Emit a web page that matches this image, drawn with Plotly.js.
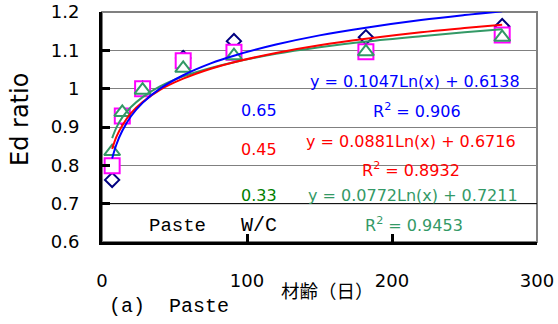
<!DOCTYPE html>
<html>
<head>
<meta charset="utf-8">
<script src="https://cdn.plot.ly/plotly-3.0.1.min.js"></script>
<style>html,body{margin:0;padding:0;background:#fff;}#chart{width:558px;height:324px;}</style>
</head>
<body>
<div id="chart"></div>
<script>
// Measured ages (days)
const days = [7, 14, 28, 56, 91, 182, 276];
// Ed ratio per W/C
const wc065 = [0.762, 0.925, 1.0, 1.08, 1.124, 1.134, 1.163];
const wc045 = [0.799, 0.929, 1.0, 1.073, 1.095, 1.096, 1.14];
const wc033 = [0.836, 0.938, 0.996, 1.053, 1.086, 1.096, 1.134];

// Trendline curves
const trendDays = [7, 10, 14, 20, 28, 40, 56, 75, 91, 120, 150, 182, 220, 250, 276];
const trend065 = [0.818, 0.855, 0.890, 0.928, 0.963, 1.000, 1.035, 1.066, 1.086, 1.115, 1.139, 1.159, 1.179, 1.192, 1.202];
const trend045 = [0.843, 0.875, 0.904, 0.936, 0.965, 0.997, 1.026, 1.052, 1.069, 1.093, 1.113, 1.130, 1.147, 1.158, 1.167];
const trend033 = [0.871, 0.899, 0.925, 0.952, 0.978, 1.006, 1.032, 1.054, 1.069, 1.091, 1.108, 1.123, 1.137, 1.147, 1.155];

const xTicks = [0, 100, 200, 300];
const yTicks = [0.6, 0.7, 0.8, 0.9, 1.0, 1.1, 1.2];
const yTickText = ['0.6', '0.7', '0.8', '0.9', '1', '1.1', '1.2'];

const F = 'DejaVu Sans, sans-serif';
const MONO = 'Liberation Mono, DejaVu Sans Mono, monospace';
const CJK = 'Noto Sans CJK JP, sans-serif';

const traces = [
  {x: days, y: wc065, mode: 'markers', type: 'scatter',
   marker: {symbol: 'diamond', size: 11, color: '#FFFFFF', line: {width: 2, color: '#000080'}}},
  {x: days, y: wc045, mode: 'markers', type: 'scatter',
   marker: {symbol: 'square', size: 15, color: '#FFFFFF', line: {width: 2, color: '#FF00FF'}}},
  {x: days, y: wc033, mode: 'markers', type: 'scatter',
   marker: {symbol: 'triangle-up', size: 14, color: '#FFFFFF', line: {width: 2, color: '#339966'}}},
  {x: trendDays, y: trend033, mode: 'lines', type: 'scatter', line: {color: '#339966', width: 2, shape: 'spline'}},
  {x: trendDays, y: trend045, mode: 'lines', type: 'scatter', line: {color: '#FF0000', width: 2, shape: 'spline'}},
  {x: trendDays, y: trend065, mode: 'lines', type: 'scatter', line: {color: '#0000FF', width: 2, shape: 'spline'}}
];

function ann(text, x, y, color, size, family) {
  return {text: text, x: x, y: y, xref: 'x', yref: 'y', showarrow: false,
          xanchor: 'center', yanchor: 'middle',
          font: {family: family || F, size: size || 16, color: color}};
}

const annotations = [
  ann('y = 0.1047Ln(x) + 0.6138', 216, 1.019, '#0000FF'),
  ann('R<sup>2</sup> = 0.906', 217, 0.944, '#0000FF'),
  ann('0.65', 108.6, 0.944, '#0000FF'),
  ann('y = 0.0881Ln(x) + 0.6716', 213, 0.862, '#FF0000'),
  ann('0.45', 108.6, 0.841, '#FF0000'),
  ann('R<sup>2</sup> = 0.8932', 213.3, 0.789, '#FF0000'),
  ann('0.33', 108.6, 0.722, '#008000'),
  ann('y = 0.0772Ln(x) + 0.7211', 214.7, 0.722, '#339966'),
  ann('R<sup>2</sup> = 0.9453', 215.4, 0.646, '#339966'),
  ann('Paste', 52, 0.643, '#000000', 19, MONO),
  ann('W/C', 108.6, 0.643, '#000000', 20, MONO),
  {text: 'Ed ratio', xref: 'paper', yref: 'paper', x: (20 - 102) / 435, y: (242 - 120) / 230,
   textangle: -90, showarrow: false, xanchor: 'center', yanchor: 'middle',
   font: {family: F, size: 24, color: '#000'}},
  {text: '材齢（日）', xref: 'paper', yref: 'paper', x: (327 - 102) / 435, y: (242 - 290) / 230,
   showarrow: false, xanchor: 'center', yanchor: 'middle',
   font: {family: CJK, size: 18.5, color: '#000'}},
  {text: '(a)\u00a0\u00a0Paste', xref: 'paper', yref: 'paper', x: (107 - 102) / 435, y: (242 - 306) / 230,
   showarrow: false, xanchor: 'left', yanchor: 'middle',
   font: {family: MONO, size: 20, color: '#000'}}
];

const layout = {
  width: 558, height: 324,
  margin: {l: 102, r: 21, t: 12, b: 82, pad: 0},
  paper_bgcolor: '#fff', plot_bgcolor: '#fff',
  showlegend: false,
  xaxis: {range: [0, 300], tickvals: xTicks, ticktext: xTicks.map(String),
          showgrid: false, zeroline: false,
          showline: true, linecolor: '#000', linewidth: 3,
          ticks: 'inside', ticklen: 8, tickwidth: 3, tickcolor: '#000',
          ticklabelstandoff: 20,
          tickfont: {family: F, size: 18, color: '#000'}},
  yaxis: {range: [0.6, 1.2], tickvals: yTicks, ticktext: yTickText,
          showgrid: true, gridcolor: '#808080', gridwidth: 1, zeroline: false,
          showline: true, linecolor: '#000', linewidth: 3,
          ticks: 'inside', ticklen: 8, tickwidth: 3, tickcolor: '#000',
          ticklabelstandoff: 16,
          tickfont: {family: F, size: 18, color: '#000'}},
  shapes: [
    {type: 'rect', xref: 'paper', yref: 'paper', x0: 0, x1: 1, y0: 0, y1: 1,
     line: {color: '#808080', width: 2}, layer: 'below'},
    {type: 'line', xref: 'paper', yref: 'y', x0: 0, x1: 1, y0: 0.7, y1: 0.7,
     line: {color: '#000000', width: 1}, layer: 'above'}
  ],
  annotations: annotations
};

Plotly.newPlot('chart', traces, layout, {staticPlot: true, displayModeBar: false});
</script>
</body>
</html>
